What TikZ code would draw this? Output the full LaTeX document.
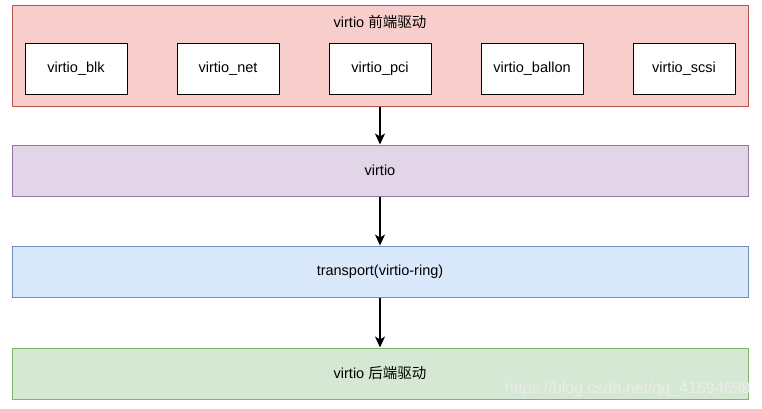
\documentclass[tikz,border=0pt]{standalone}
\usepackage{fontspec}
\setmainfont{Liberation Sans}
\newfontfamily\cjk{Noto Sans CJK SC}
\usetikzlibrary{arrows,arrows.meta,positioning,shapes}

\definecolor{redfill}{HTML}{F8CECC}
\definecolor{redline}{HTML}{B85450}
\definecolor{purplefill}{HTML}{E1D5E7}
\definecolor{purpleline}{HTML}{9673A6}
\definecolor{bluefill}{HTML}{DAE8FC}
\definecolor{blueline}{HTML}{6C8EBF}
\definecolor{greenfill}{HTML}{D5E8D4}
\definecolor{greenline}{HTML}{82B366}

\begin{document}
\begin{tikzpicture}[x=1pt,y=-1pt,font=\fontsize{14.5}{17}\selectfont,
    layer/.style={draw,line width=1pt,minimum width=736pt,inner sep=0pt},
    drv/.style={draw=black,fill=white,line width=1pt,minimum width=102pt,minimum height=51pt,inner sep=0pt}]
    \useasboundingbox (0,0) rectangle (762,408);

    \node[layer,fill=redfill,draw=redline,minimum height=101pt] (front) at (380,55.5) {};
    \node (fronttitle) at (380,22) {virtio {\cjk 前端驱动}};

    \node[drv] (blk) at (76,68.5) {virtio\_blk};
    \node[drv] (net) at (228,68.5) {virtio\_net};
    \node[drv] (pci) at (380,68.5) {virtio\_pci};
    \node[drv] (ballon) at (532,68.5) {virtio\_ballon};
    \node[drv] (scsi) at (684,68.5) {virtio\_scsi};

    \node[layer,fill=purplefill,draw=purpleline,minimum height=51pt] (virtio) at (380,170.5) {virtio};
    \node[layer,fill=bluefill,draw=blueline,minimum height=51pt] (transport) at (380,271.5) {transport(virtio-ring)};
    \node[layer,fill=greenfill,draw=greenline,minimum height=51pt] (back) at (380,373.5) {virtio {\cjk 后端驱动}};

    \foreach \from/\to in {front/virtio,virtio/transport,transport/back}
        \draw[-{Stealth[length=11pt,width=10pt,inset=3pt]},line width=1.3pt] (\from)--(\to);

    \node[text=white!85!gray,anchor=east,font=\fontsize{16}{18}\selectfont] (mark) at (754,389) {https://blog.csdn.net/qq\_41594698};
  \end{tikzpicture}
\end{document}
